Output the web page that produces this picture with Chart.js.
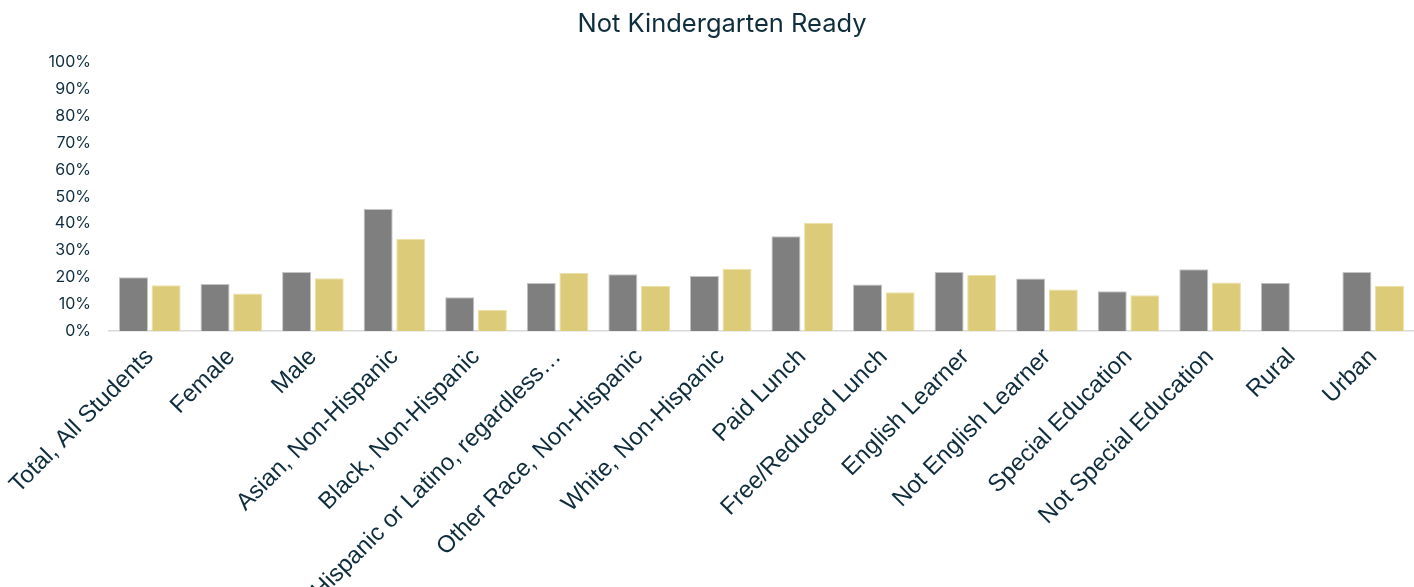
<!DOCTYPE html>
<html lang="en">
<head>
<meta charset="UTF-8">
<title>Not Kindergarten Ready</title>
<style>
  body { margin: 0; background: #fff; }
  #wrap { width: 1414px; height: 587px; position: relative; }
</style>
</head>
<body>
<div id="wrap"><canvas id="chart"></canvas></div>
<script src="https://cdn.jsdelivr.net/npm/chart.js"></script>
<script>
const categories = [
  'Total, All Students', 'Female', 'Male', 'Asian, Non-Hispanic', 'Black, Non-Hispanic',
  'Hispanic or Latino, regardless\u2026', 'Other Race, Non-Hispanic', 'White, Non-Hispanic',
  'Paid Lunch', 'Free/Reduced Lunch', 'English Learner', 'Not English Learner',
  'Special Education', 'Not Special Education', 'Rural', 'Urban'
];
const seriesGray = [20.0, 17.5, 22.0, 45.5, 12.6, 17.9, 21.1, 20.5, 35.3, 17.3, 22.0, 19.6, 14.8, 23.0, 18.0, 22.0];
const seriesGold = [17.0, 14.0, 19.7, 34.3, 7.8, 21.7, 16.8, 23.1, 40.2, 14.4, 20.9, 15.5, 13.3, 18.1, null, 16.9];
const yTicks = [0, 10, 20, 30, 40, 50, 60, 70, 80, 90, 100];

const textColor = '#0f2d3d';

new Chart(document.getElementById('chart'), {
  type: 'bar',
  data: {
    labels: categories,
    datasets: [
      {
        label: 'Series 1',
        data: seriesGray,
        backgroundColor: '#7f7f7f',
        borderColor: '#c4c4c4',
        borderWidth: 1,
        categoryPercentage: 0.8,
        barPercentage: 0.89
      },
      {
        label: 'Series 2',
        data: seriesGold,
        backgroundColor: '#dccb78',
        borderColor: '#ece0a8',
        borderWidth: 1,
        categoryPercentage: 0.8,
        barPercentage: 0.89
      }
    ]
  },
  options: {
    responsive: true,
    maintainAspectRatio: false,
    animation: false,
    // left padding shifts the title centre to match; y axis width makes up the rest
    layout: { padding: { left: 30, right: 0, top: 0, bottom: 0 } },
    plugins: {
      legend: { display: false },
      tooltip: { enabled: false },
      title: {
        display: true,
        text: 'Not Kindergarten Ready',
        color: textColor,
        font: { family: 'Inter', size: 25.5, weight: 'normal' },
        padding: { top: 9, bottom: 23 }
      }
    },
    scales: {
      x: {
        grid: { display: false },
        border: { display: true, color: '#d9d9d9', width: 1.5 },
        ticks: {
          autoSkip: false,
          maxRotation: 45,
          minRotation: 45,
          padding: 4,
          color: textColor,
          font: { family: 'Liberation Sans', size: 24 }
        },
        afterFit: (axis) => { axis.height = 256; }
      },
      y: {
        min: 0,
        max: 100,
        grid: { display: false, drawTicks: false },
        border: { display: false },
        afterBuildTicks: (axis) => { axis.ticks = yTicks.map(v => ({ value: v })); },
        ticks: {
          padding: 18,
          color: textColor,
          font: { family: 'Inter', size: 16 },
          callback: (v) => v + '%'
        },
        afterFit: (axis) => { axis.width = 79; }
      }
    }
  }
});
</script>
</body>
</html>
